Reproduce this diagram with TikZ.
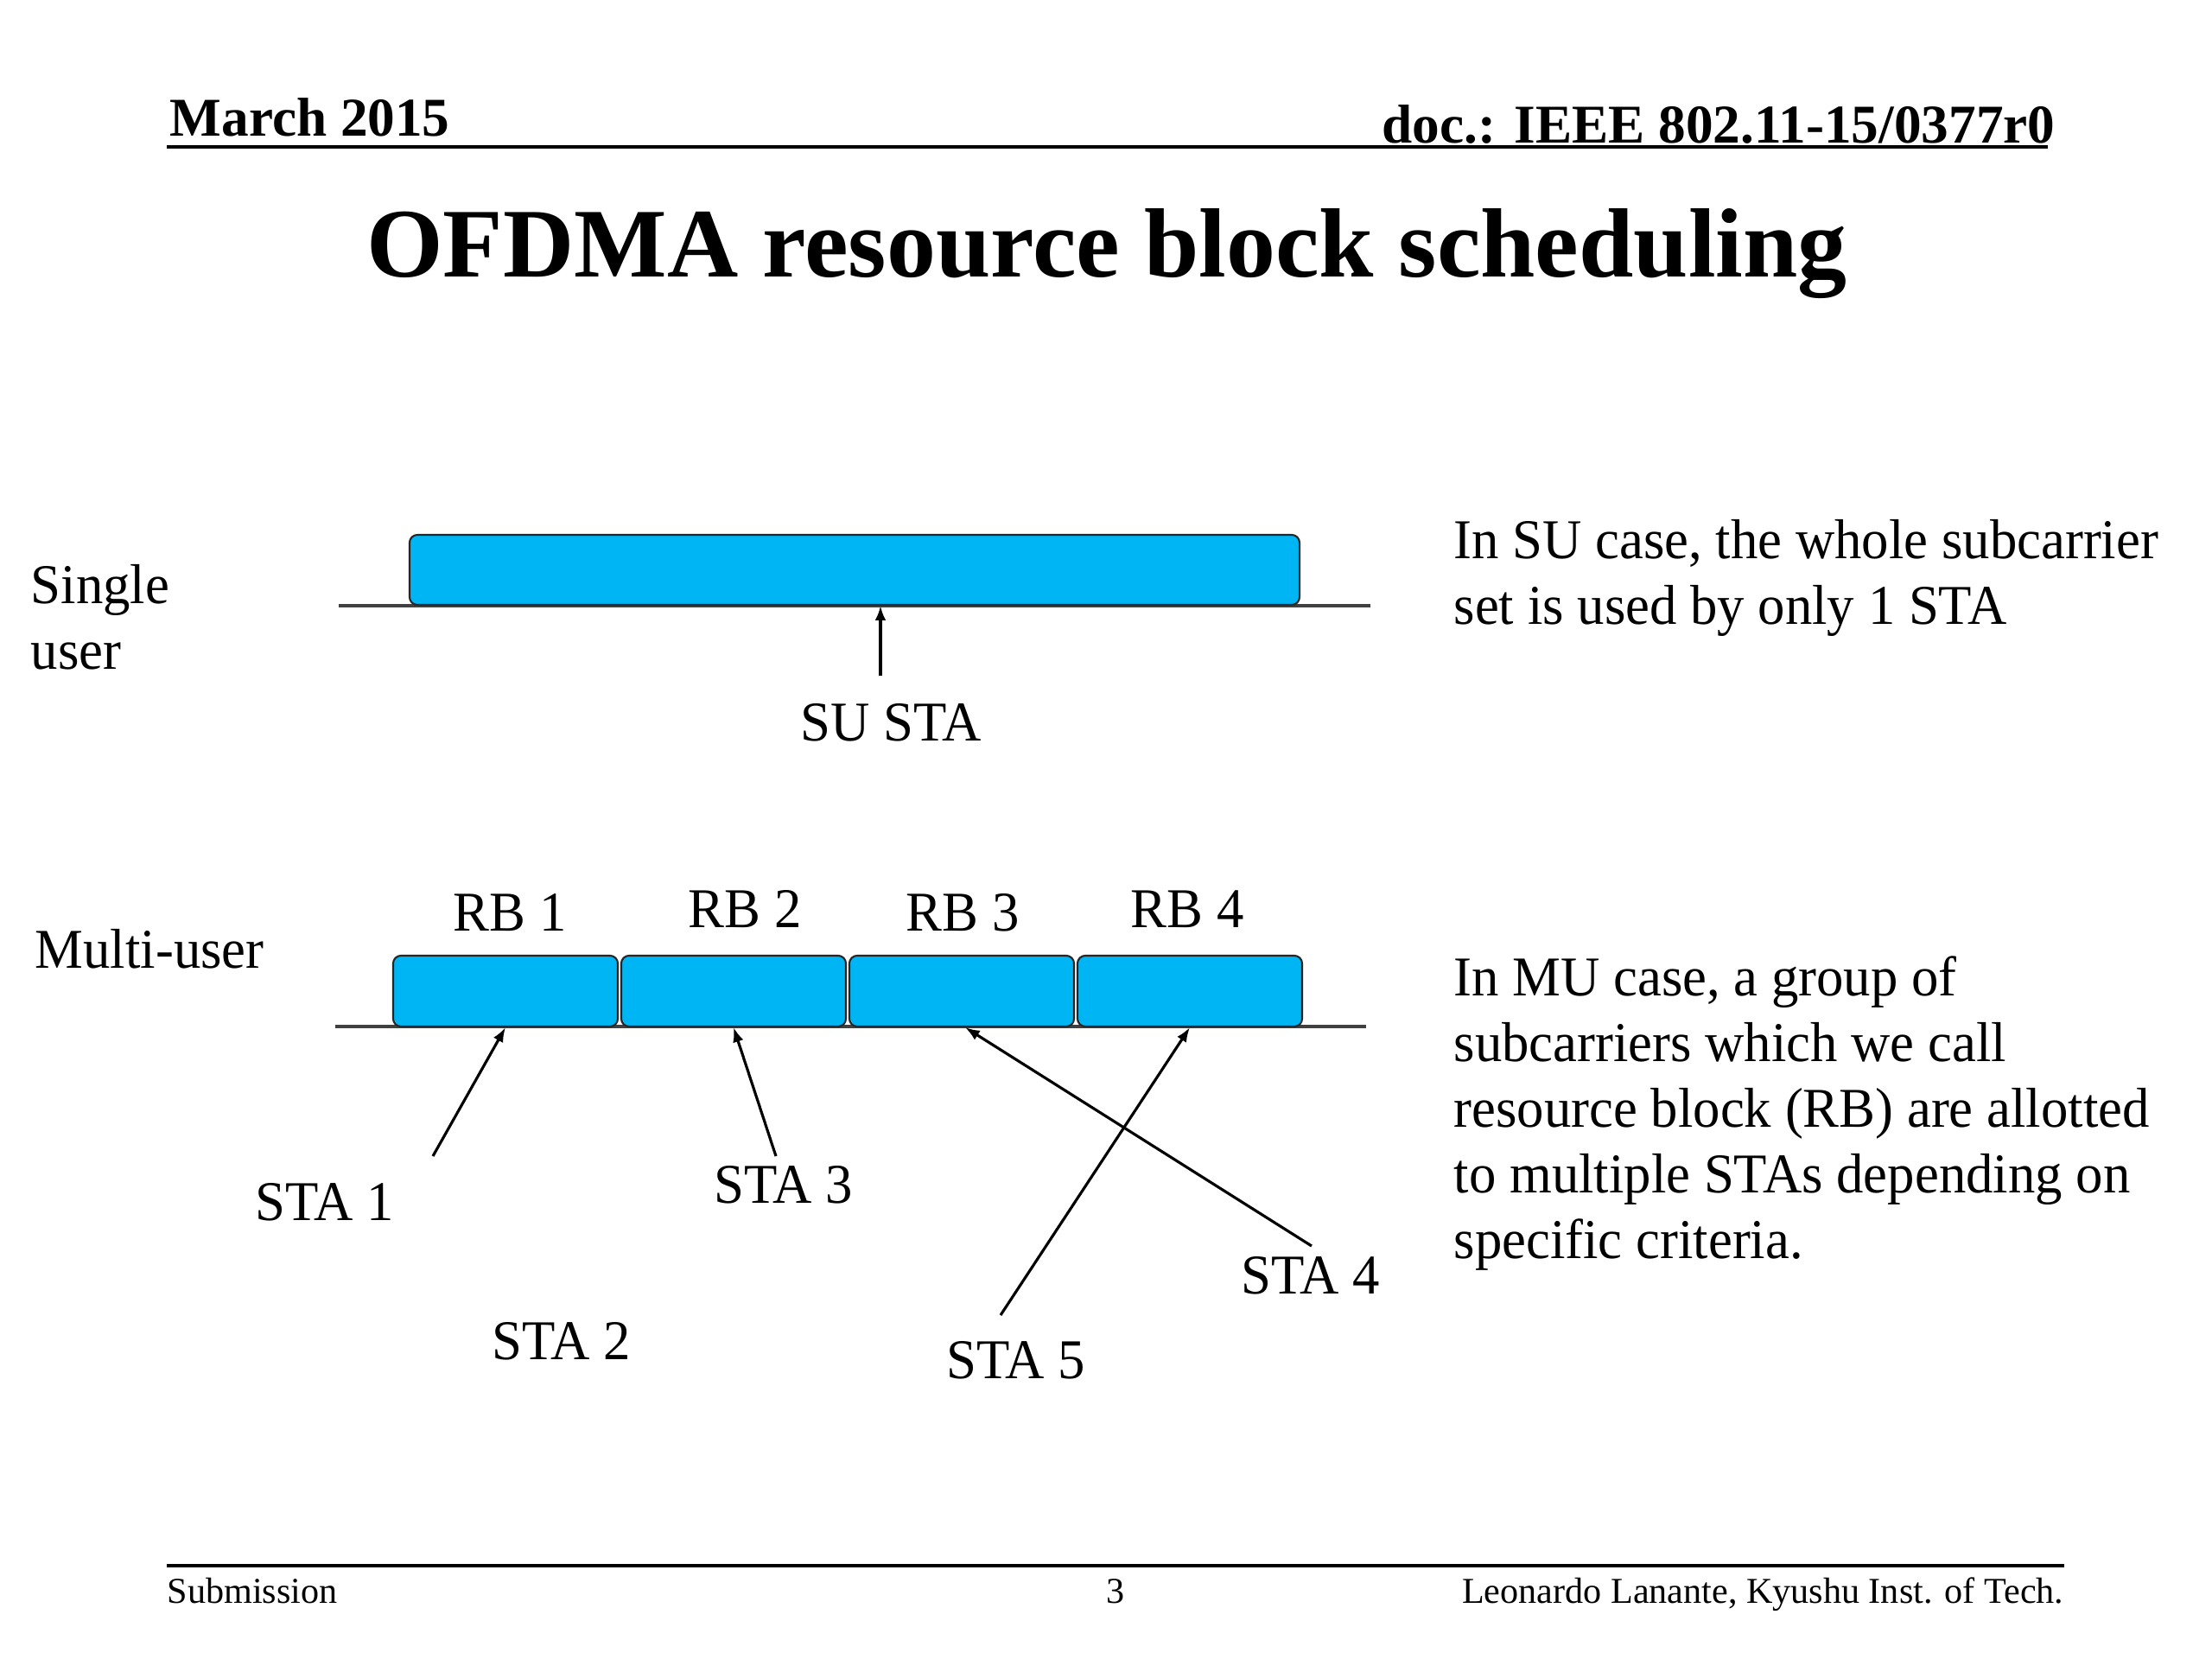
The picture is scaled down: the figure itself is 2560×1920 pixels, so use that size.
\documentclass[tikz,border=0pt]{standalone}
\usepackage{fontspec}
\setmainfont{Liberation Serif}
\newfontfamily\bodyfont[FakeStretch=0.965]{Liberation Serif}
\usetikzlibrary{arrows.meta,calc}
\definecolor{rbblue}{RGB}{0,181,244}
\begin{document}
\begin{tikzpicture}[x=0.1mm,y=-0.1mm,
  body/.style={inner sep=0pt, font=\bodyfont\fontsize{18.5pt}{21.6pt}\selectfont},
  hdr/.style={inner sep=0pt, font=\fontsize{18pt}{20pt}\selectfont\bfseries},
  ttl/.style={inner sep=0pt, font=\fontsize{32.4pt}{36pt}\selectfont\bfseries},
  ftr/.style={inner sep=0pt, font=\fontsize{12pt}{14pt}\selectfont},
  rule/.style={line width=1.1pt, black},
  axis/.style={line width=1pt, black!75},
  rbbox/.style={draw=black!85, line width=0.6pt, fill=rbblue, rounded corners=0.9mm, inner sep=0pt},
  ptr/.style={line width=0.9pt, -{Latex[length=4.8pt,width=3.6pt]}}
]
\useasboundingbox (0,0) rectangle (2560,1920);
\fill[white] (0,0) rectangle (2560,1920);

% header
\node[hdr, anchor=base west] (date) at (196,157) {March 2015};
\node[hdr, anchor=base east] (doc) at (2379,165) {doc.: IEEE 802.11-15/0377r0};
\draw[rule] (193,170) -- (2370,170);

% title
\node[ttl, anchor=base] (title) at (1281,320) {OFDMA resource block scheduling};

% single user
\node[body, anchor=north west, align=left] (single) at (35,653) {Single\\user};
\draw[axis] (392,701) -- (1586,701);
\node[rbbox, minimum width=103mm, minimum height=8.1mm] (subox) at (989,659.5) {};
\coordinate (sutail) at (1019,782);
\draw[ptr] (sutail) -- (sutail |- subox.south);
\node[body, anchor=base] (susta) at (1031,857) {SU STA};
\node[body, anchor=north west, align=left] (sutext) at (1682,601)
  {In SU case, the whole subcarrier\\set is used by only 1 STA};

% multi user
\node[body, anchor=base west] (multi) at (40,1120) {Multi-user};
\draw[axis] (388,1188) -- (1581,1188);
\node[rbbox, minimum width=26mm, minimum height=8.2mm] (rb1) at (585,1147) {};
\node[rbbox, minimum width=26mm, minimum height=8.2mm] (rb2) at (849,1147) {};
\node[rbbox, minimum width=26mm, minimum height=8.2mm] (rb3) at (1113,1147) {};
\node[rbbox, minimum width=26mm, minimum height=8.2mm] (rb4) at (1377,1147) {};
\node[body, anchor=base] (rbl1) at (590,1077) {RB 1};
\node[body, anchor=base] (rbl2) at (862,1073) {RB 2};
\node[body, anchor=base] (rbl3) at (1114,1077) {RB 3};
\node[body, anchor=base] (rbl4) at (1374,1073) {RB 4};

\node[body, anchor=base] (sta1) at (376,1412) {STA 1};
\node[body, anchor=base] (sta2) at (650,1573) {STA 2};
\node[body, anchor=base] (sta3) at (907,1392) {STA 3};
\node[body, anchor=base] (sta4) at (1517,1497) {STA 4};
\node[body, anchor=base] (sta5) at (1176,1595) {STA 5};

\coordinate (t1) at (501,1338);
\coordinate (t3) at (898,1338);
\coordinate (t4) at (1518,1442);
\coordinate (t5) at (1158,1522);
\draw[ptr] (t1) -- (rb1.south);
\draw[ptr] (t3) -- (rb2.south);
\draw[ptr] (t4) -- ([xshift=0.4mm]rb3.south);
\draw[ptr] (t5) -- (rb4.south);

\node[body, anchor=north west, align=left] (mutext) at (1682,1106)
  {In MU case, a group of\\subcarriers which we call\\resource block (RB) are allotted\\to multiple STAs depending on\\specific criteria.};

% footer
\draw[rule] (193,1812) -- (2389,1812);
\node[ftr, anchor=base west] (sub) at (193,1855) {Submission};
\node[ftr, anchor=base] (page) at (1291,1855) {3};
\node[ftr, anchor=base east] (auth) at (2389,1855) {Leonardo Lanante, Kyushu Inst. of Tech.};
\end{tikzpicture}
\end{document}
